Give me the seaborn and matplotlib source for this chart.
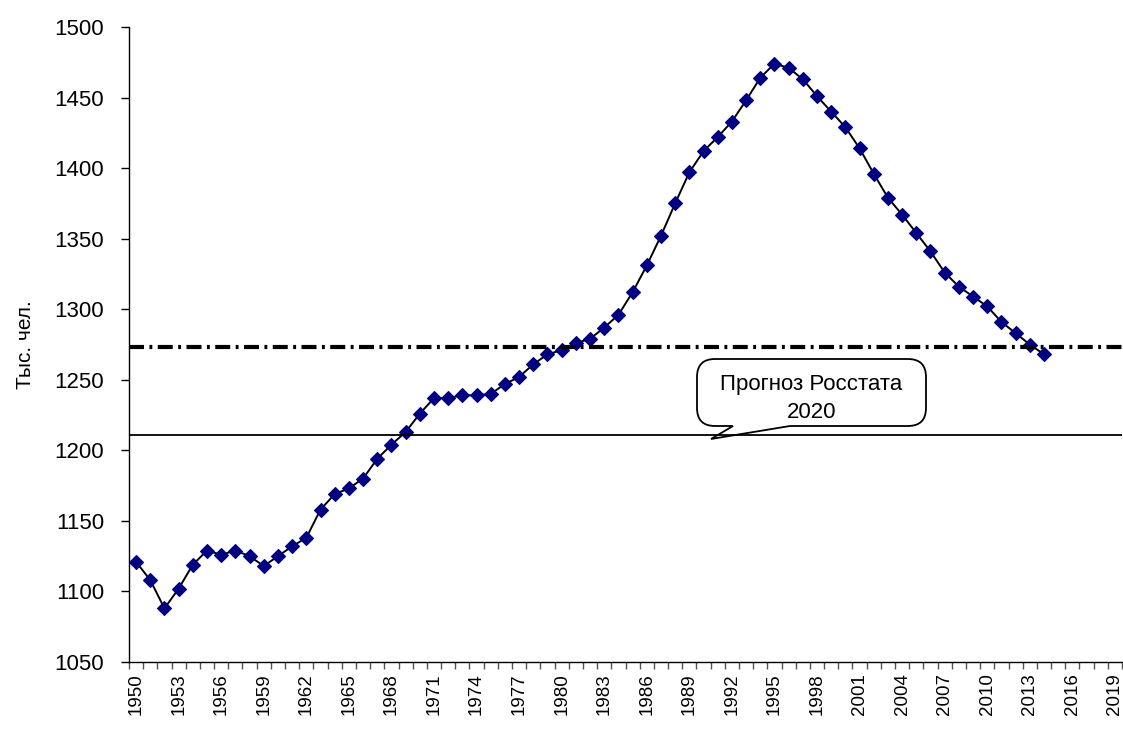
import matplotlib
matplotlib.use("Agg")
import matplotlib.pyplot as plt
import numpy as np
import pandas as pd
import seaborn as sns
from matplotlib.path import Path
from matplotlib.patches import PathPatch


# population, thousand people, 1950-2014
years = list(range(1950, 2015))
population = [
    1121, 1108, 1088, 1102, 1119, 1129, 1126, 1129, 1125, 1118,
    1125, 1132, 1138, 1158, 1169, 1173, 1180, 1194, 1204, 1213,
    1226, 1237, 1237, 1239, 1239, 1240, 1247, 1252, 1261, 1268,
    1271, 1276, 1279, 1287, 1296, 1312, 1331, 1352, 1375, 1397,
    1412, 1422, 1433, 1448, 1464, 1474, 1471, 1463, 1451, 1440,
    1429, 1414, 1396, 1379, 1367, 1354, 1341, 1326, 1316, 1309,
    1302, 1291, 1283, 1275, 1268,
]
axis_years = list(range(1950, 2020))
label_years = axis_years[::3]
y_ticks = list(range(1050, 1501, 50))
dashdot_level = 1273.5
forecast_level = 1211
callout_text = "Прогноз Росстата\n2020"
y_label = "Тыс. чел."

sns.set_theme(style="white")
plt.rcParams["font.family"] = ["Liberation Sans", "DejaVu Sans"]

df = pd.DataFrame({"year": years, "value": population})

W, H = 1123, 729
fig = plt.figure(figsize=(W / 100, H / 100), dpi=100)
fig.patch.set_facecolor("white")
ax = fig.add_axes([129 / W, 1 - 662 / H, 993 / W, 635 / H])

sns.lineplot(
    data=df,
    x="year",
    y="value",
    color="black",
    linewidth=1.4,
    marker="D",
    markersize=7.2,
    markerfacecolor="#000080",
    markeredgecolor="#000080",
    markeredgewidth=0.8,
    ax=ax,
    zorder=2,
)

ax.axhline(dashdot_level, color="black", linewidth=3.0,
           linestyle=(0, (3.6, 1.3, 0.7, 1.3)), zorder=3)
ax.axhline(forecast_level, color="black", linewidth=1.3, zorder=3)

ax.set_xlim(axis_years[0] - 0.5, axis_years[-1] + 0.5)
ax.set_ylim(y_ticks[0], y_ticks[-1])
ax.set_yticks(y_ticks)
ax.set_xticks(label_years)
ax.set_xticklabels([str(y) for y in label_years], rotation=90)
ax.set_xticks(np.arange(axis_years[0] - 0.5, axis_years[-1] + 1, 1), minor=True)

for side in ["top", "right"]:
    ax.spines[side].set_visible(False)
for side in ["left", "bottom"]:
    ax.spines[side].set_color("black")
    ax.spines[side].set_linewidth(1.0)

ax.tick_params(axis="y", left=True, direction="out", length=6, width=1,
               color="black", labelsize=16, pad=12, labelcolor="black")
ax.tick_params(axis="x", which="major", bottom=True, length=0, labelsize=13.5,
               pad=8, labelcolor="black")
ax.tick_params(axis="x", which="minor", bottom=True, direction="out",
               length=5, width=1, color="#555555")

ax.set_xlabel("")
ax.set_ylabel(y_label, fontsize=15, color="black", labelpad=14)

# speech-bubble callout (axes fraction coordinates)
aw, ah = 993.0, 635.0
xl, xr = (697 - 129) / aw, (926 - 129) / aw
yt, yb = (662 - 359) / ah, (662 - 426) / ah
rx, ry = 18 / aw, 18 / ah
bl, br = (733 - 129) / aw, (790 - 129) / aw
tip = ((711 - 129) / aw, (662 - 439) / ah)
verts = [
    (xl + rx, yt), (xr - rx, yt),
    (xr, yt), (xr, yt - ry),
    (xr, yb + ry),
    (xr, yb), (xr - rx, yb),
    (br, yb), tip, (bl, yb),
    (xl + rx, yb),
    (xl, yb), (xl, yb + ry),
    (xl, yt - ry),
    (xl, yt), (xl + rx, yt),
    (xl + rx, yt),
]
codes = [
    Path.MOVETO, Path.LINETO,
    Path.CURVE3, Path.CURVE3,
    Path.LINETO,
    Path.CURVE3, Path.CURVE3,
    Path.LINETO, Path.LINETO, Path.LINETO,
    Path.LINETO,
    Path.CURVE3, Path.CURVE3,
    Path.LINETO,
    Path.CURVE3, Path.CURVE3,
    Path.CLOSEPOLY,
]
bubble = PathPatch(Path(verts, codes), transform=ax.transAxes,
                   facecolor="white", edgecolor="black", linewidth=1.3, zorder=2.5)
ax.add_patch(bubble)
ax.text((xl + xr) / 2, (yt + yb) / 2 - 6 / ah, callout_text, transform=ax.transAxes,
        ha="center", va="center", fontsize=16, linespacing=1.45, color="black",
        zorder=4)

fig.savefig("out.png", dpi=100, facecolor="white")
plt.close(fig)
